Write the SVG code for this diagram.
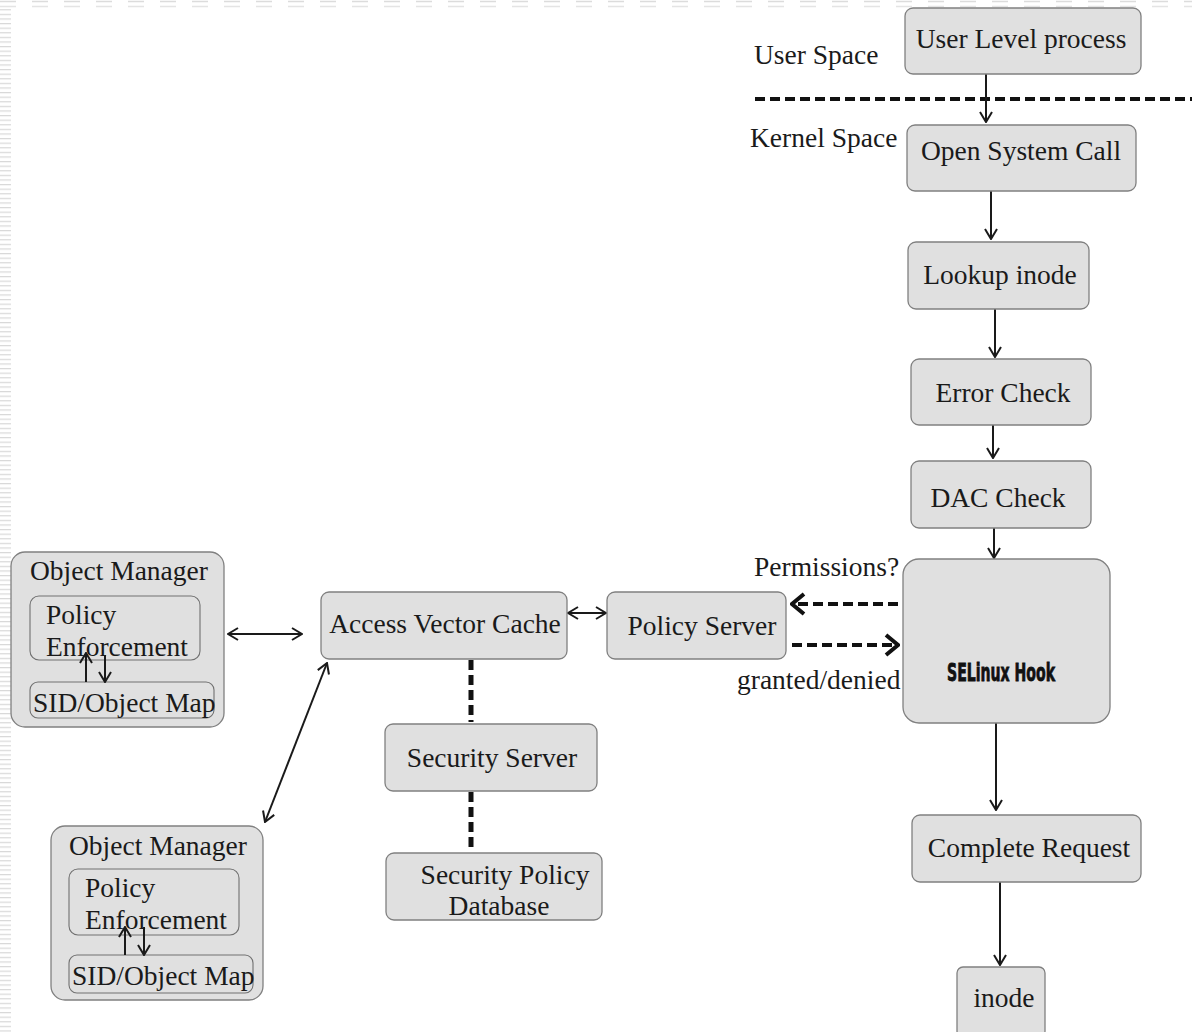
<svg xmlns="http://www.w3.org/2000/svg" width="1192" height="1032" viewBox="0 0 1192 1032">
<style>
.box{fill:#e0e0e0;stroke:#808080;stroke-width:1.3}
.inner{fill:#e0e0e0;stroke:#707070;stroke-width:1.1}
.t{font-family:"Liberation Serif","Times New Roman",serif;font-size:27.5px;fill:#1a1a1a}
.c{text-anchor:middle}
.ln{stroke:#1a1a1a;stroke-width:2;fill:none}
.dash{stroke:#111;stroke-width:4;fill:none;stroke-dasharray:10,5}
.vdash{stroke:#111;stroke-width:5;fill:none;stroke-dasharray:10,5}
</style>
<defs>
<marker id="ah" viewBox="0 0 12 14" refX="11" refY="7" markerWidth="12" markerHeight="14" orient="auto-start-reverse" markerUnits="userSpaceOnUse">
<path d="M1,1 L11,7 L1,13" fill="none" stroke="#1a1a1a" stroke-width="2"/>
</marker>
<marker id="ahb" viewBox="0 0 16 24" refX="14" refY="12" markerWidth="16" markerHeight="24" orient="auto" markerUnits="userSpaceOnUse">
<path d="M2,2 L14,12 L2,22" fill="none" stroke="#111" stroke-width="4"/>
</marker>
<pattern id="stripes" width="12" height="4.6" patternUnits="userSpaceOnUse">
<rect x="0" y="0" width="11" height="1.2" fill="#d8d8d8"/>
</pattern>
</defs>
<rect width="1192" height="1032" fill="#ffffff"/>
<g id="background">
<rect x="0" y="9" width="11" height="1023" fill="url(#stripes)"/>
<line x1="0" y1="1.5" x2="1192" y2="1.5" stroke="#dcdcdc" stroke-width="1.5" stroke-dasharray="16,16"/>
<line x1="0" y1="6.5" x2="1192" y2="6.5" stroke="#e4e4e4" stroke-width="1.5" stroke-dasharray="16,16"/>
</g>
<g id="labels">
<text class="t" x="754" y="64">User Space</text>
<text class="t" x="750" y="147">Kernel Space</text>
<text class="t" x="754" y="576">Permissions?</text>
<text class="t" x="737" y="689">granted/denied</text>
</g>
<g id="connectors">
<line class="dash" x1="755" y1="99" x2="1192" y2="99"/>
<line class="ln" x1="986" y1="74" x2="986" y2="122" marker-end="url(#ah)"/>
<line class="ln" x1="991" y1="191" x2="991" y2="239" marker-end="url(#ah)"/>
<line class="ln" x1="995" y1="309" x2="995" y2="357" marker-end="url(#ah)"/>
<line class="ln" x1="993" y1="425" x2="993" y2="458" marker-end="url(#ah)"/>
<line class="ln" x1="994" y1="528" x2="994" y2="558" marker-end="url(#ah)"/>
<line class="ln" x1="996" y1="723" x2="996" y2="810" marker-end="url(#ah)"/>
<line class="ln" x1="1000" y1="882" x2="1000" y2="965" marker-end="url(#ah)"/>
<line class="dash" x1="898" y1="604" x2="792" y2="604" marker-end="url(#ahb)"/>
<line class="dash" x1="792" y1="645" x2="898" y2="645" marker-end="url(#ahb)"/>
<line class="ln" x1="568" y1="613" x2="606" y2="613" marker-start="url(#ah)" marker-end="url(#ah)"/>
<line class="ln" x1="228" y1="634" x2="302" y2="634" marker-start="url(#ah)" marker-end="url(#ah)"/>
<line class="ln" x1="265" y1="822" x2="327" y2="663" marker-start="url(#ah)" marker-end="url(#ah)"/>
<line class="vdash" x1="471" y1="660" x2="471" y2="722"/>
<line class="vdash" x1="471" y1="792" x2="471" y2="852"/>
</g>
<g id="user-level-process"><rect class="box" x="905" y="8" width="236" height="66" rx="8"/><text class="t c" x="1021" y="48">User Level process</text></g>
<g id="open-system-call"><rect class="box" x="907" y="125" width="229" height="66" rx="8"/><text class="t c" x="1021" y="160">Open System Call</text></g>
<g id="lookup-inode"><rect class="box" x="908" y="242" width="181" height="67" rx="8"/><text class="t c" x="1000" y="284">Lookup inode</text></g>
<g id="error-check"><rect class="box" x="911" y="359" width="180" height="66" rx="8"/><text class="t c" x="1003" y="402">Error Check</text></g>
<g id="dac-check"><rect class="box" x="911" y="461" width="180" height="67" rx="8"/><text class="t c" x="998" y="507">DAC Check</text></g>
<g id="selinux-hook"><rect class="box" x="903" y="559" width="207" height="164" rx="16"/><text x="1001" y="681" text-anchor="middle" font-family="'DejaVu Sans Condensed','Liberation Sans Narrow','DejaVu Sans',sans-serif" font-weight="bold" font-size="25" fill="#111" stroke="#111" stroke-width="0.8" textLength="108" lengthAdjust="spacingAndGlyphs">SELinux Hook</text></g>
<g id="complete-request"><rect class="box" x="912" y="815" width="229" height="67" rx="8"/><text class="t c" x="1029" y="857">Complete Request</text></g>
<g id="inode"><rect class="box" x="957" y="967" width="88" height="70" rx="6"/><text class="t c" x="1004" y="1007">inode</text></g>
<g id="policy-server"><rect class="box" x="607" y="592" width="179" height="67" rx="8"/><text class="t c" x="702" y="635">Policy Server</text></g>
<g id="access-vector-cache"><rect class="box" x="321" y="592" width="246" height="67" rx="8"/><text class="t c" x="445" y="633">Access Vector Cache</text></g>
<g id="security-server"><rect class="box" x="385" y="724" width="212" height="67" rx="8"/><text class="t c" x="492" y="767">Security Server</text></g>
<g id="security-policy-database"><rect class="box" x="386" y="853" width="216" height="67" rx="8"/><text class="t c" x="505" y="884">Security Policy</text><text class="t c" x="499" y="915">Database</text></g>
<g id="object-manager-1">
<rect class="box" x="11" y="552" width="213" height="175" rx="14"/>
<text class="t" x="30" y="580">Object Manager</text>
<rect class="inner" x="30" y="596" width="170" height="64" rx="9"/>
<text class="t" x="46" y="624">Policy</text>
<text class="t" x="46" y="656">Enforcement</text>
<rect class="inner" x="30" y="682" width="184" height="36" rx="8"/>
<text class="t" x="33" y="712">SID/Object Map</text>
<line class="ln" x1="86" y1="682" x2="86" y2="653" marker-end="url(#ah)"/>
<line class="ln" x1="105" y1="655" x2="105" y2="682" marker-end="url(#ah)"/>
</g>
<g id="object-manager-2">
<rect class="box" x="51" y="826" width="212" height="174" rx="14"/>
<text class="t" x="69" y="855">Object Manager</text>
<rect class="inner" x="69" y="869" width="170" height="66" rx="9"/>
<text class="t" x="85" y="897">Policy</text>
<text class="t" x="85" y="929">Enforcement</text>
<rect class="inner" x="69" y="955" width="184" height="38" rx="8"/>
<text class="t" x="72" y="985">SID/Object Map</text>
<line class="ln" x1="125" y1="955" x2="125" y2="927" marker-end="url(#ah)"/>
<line class="ln" x1="144" y1="927" x2="144" y2="955" marker-end="url(#ah)"/>
</g>
</svg>
